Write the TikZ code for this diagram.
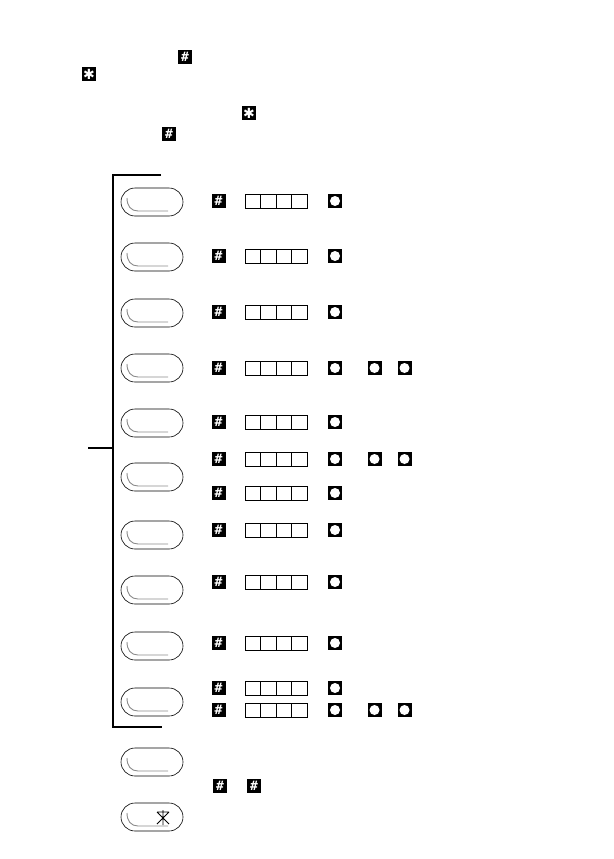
\documentclass[tikz,border=0pt]{standalone}
\usepackage{fontspec}
\usepackage{tikz}
\usetikzlibrary{positioning, calc, shapes.misc}
\newfontfamily\symfont{DejaVu Sans}
\newfontfamily\hashfont{DejaVu Sans Mono}
\definecolor{keygray}{HTML}{8A8A8A}

\tikzset{
  hashkey/.style={fill=black, text=white, minimum size=14pt, inner sep=0pt,
    font=\hashfont\bfseries\fontsize{13}{13}\selectfont},
  starkey/.style={fill=black, text=white, minimum size=14pt, inner sep=0pt,
    font=\symfont\fontsize{14}{14}\selectfont},
  digit/.style={draw, line width=0.8pt, minimum width=15.5pt, minimum height=14pt, inner sep=0pt},
  lamp/.style={fill=black, minimum size=14pt, inner sep=0pt,
    path picture={\fill[white] (path picture bounding box.center) circle (5pt);}},
  button/.style={draw, rounded rectangle, line width=0.6pt, minimum width=62pt,
    minimum height=28pt, inner sep=0pt},
  groove/.style={keygray, line width=0.9pt},
  bracket/.style={line width=1.3pt}
}

% one code row: name, y, extra lamps (0 or 2)
\newcommand\coderow[3]{%
  \node[hashkey] (#1h) at (218.5,#2) {\#};
  \foreach \k in {0,...,3}
    \node[digit] (#1d\k) at (252.75+15.5*\k,#2) {};
  \node[lamp] (#1l) at (335,#2) {};
  \ifnum#3>0
    \node[lamp] (#1la) at (374.5,#2) {};
    \node[lamp] (#1lb) at (404.5,#2) {};
  \fi}

\begin{document}
\begin{tikzpicture}[x=1pt, y=-1pt]
  \useasboundingbox (0,0) rectangle (613,859);

  % symbols in the text above
  \node[hashkey] (tophash) at (185,57) {\#};
  \node[starkey] (topstar) at (89,74) {✱};
  \node[starkey] (midstar) at (249,113) {✱};
  \node[hashkey] (midhash) at (169,134) {\#};

  % bracket
  \coordinate (brtop) at (161,175);
  \coordinate (brbot) at (162,727);
  \coordinate (brtick) at (88,448);
  \draw[bracket] (brtop) -- (113,175) -- (113,727) -- (brbot);
  \draw[bracket] (brtick) -- (113,448);

  % buttons
  \foreach \y [count=\i] in {202,257,313,368,423,477,535,590,646,702,762,817} {
    \node[button] (b\i) at (152,\y) {};
    \draw[groove] ($(b\i.center)+(-25,-4)$) .. controls +(0,8) and +(-7,0) .. ($(b\i.center)+(-14,9)$)
      -- ($(b\i.center)+(16,9)$);
  }
  % star on the last button
  \draw[line width=0.9pt] ($(b12.center)+(11,-7)$) -- ($(b12.center)+(11,8)$)
    ($(b12.center)+(5,-5)$) -- ($(b12.center)+(17,-5)$)
    ($(b12.center)+(5,-5)$) -- ($(b12.center)+(17,7)$)
    ($(b12.center)+(17,-5)$) -- ($(b12.center)+(5,7)$);

  % code rows
  \coderow{r1}{201}{0}
  \coderow{r2}{256}{0}
  \coderow{r3}{312}{0}
  \coderow{r4}{368}{2}
  \coderow{r5}{422}{0}
  \coderow{r6}{459}{2}
  \coderow{r7}{493}{0}
  \coderow{r8}{530}{0}
  \coderow{r9}{582}{0}
  \coderow{r10}{643}{0}
  \coderow{r11}{688}{0}
  \coderow{r12}{710}{2}

  % bottom pair
  \node[hashkey] (endhasha) at (220,786) {\#};
  \node[hashkey] (endhashb) at (254,786) {\#};
\end{tikzpicture}
\end{document}
